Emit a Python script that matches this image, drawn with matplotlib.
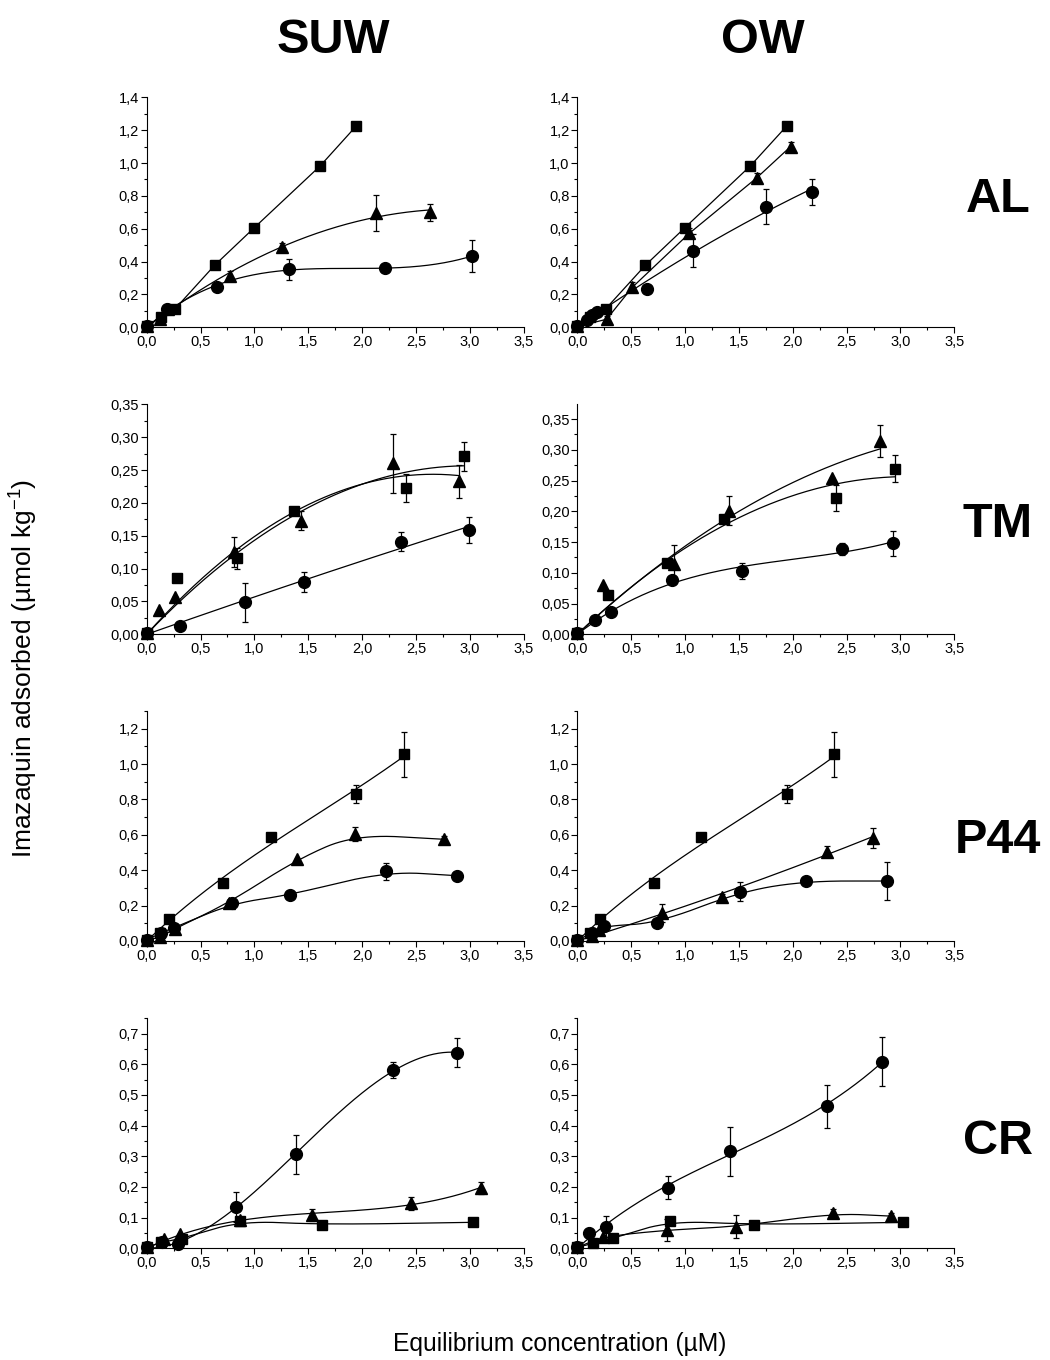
import numpy as np
import matplotlib.pyplot as plt
from matplotlib.ticker import AutoMinorLocator, FuncFormatter, MultipleLocator

plt.rcParams['font.family'] = ['Liberation Sans', 'DejaVu Sans']
plt.rcParams['mathtext.default'] = 'regular'

# ---- AL / SUW
al_suw_sq_x = [0.0, 0.13, 0.26, 0.63, 1.0, 1.61, 1.945]
al_suw_sq_y = [0.005, 0.065, 0.11, 0.377, 0.607, 0.982, 1.225]
al_suw_sq_e = [0, 0, 0, 0, 0, 0, 0]
al_suw_tr_x = [0.0, 0.12, 0.2, 0.774, 1.254, 2.128, 2.626]
al_suw_tr_y = [0.005, 0.05, 0.11, 0.312, 0.491, 0.694, 0.70]
al_suw_tr_e = [0, 0, 0.02, 0.03, 0.02, 0.11, 0.05]
al_suw_ci_x = [0.0, 0.186, 0.657, 1.325, 2.214, 3.02]
al_suw_ci_y = [0.005, 0.11, 0.248, 0.353, 0.359, 0.434]
al_suw_ci_e = [0, 0, 0, 0.065, 0, 0.097]

# ---- AL / OW
al_ow_sq_x = [0.0, 0.12, 0.263, 0.631, 1.0, 1.606, 1.944]
al_ow_sq_y = [0.005, 0.06, 0.112, 0.377, 0.607, 0.982, 1.225]
al_ow_sq_e = [0, 0, 0, 0, 0, 0, 0]
al_ow_tr_x = [0.0, 0.272, 0.51, 1.04, 1.668, 1.98]
al_ow_tr_y = [0.005, 0.049, 0.243, 0.572, 0.911, 1.10]
al_ow_tr_e = [0, 0.02, 0.03, 0.03, 0.03, 0.03]
al_ow_ci_x = [0.0, 0.087, 0.133, 0.18, 0.644, 1.071, 1.749, 2.179]
al_ow_ci_y = [0.005, 0.045, 0.073, 0.091, 0.235, 0.465, 0.734, 0.824]
al_ow_ci_e = [0, 0, 0, 0, 0, 0.1, 0.105, 0.08]

# ---- TM / SUW
tm_suw_sq_x = [0.0, 0.279, 0.836, 1.363, 2.403, 2.948]
tm_suw_sq_y = [0.002, 0.0864, 0.116, 0.187, 0.223, 0.271]
tm_suw_sq_e = [0, 0, 0.016, 0.005, 0.021, 0.022]
tm_suw_tr_x = [0.0, 0.118, 0.266, 0.814, 1.437, 2.286, 2.896]
tm_suw_tr_y = [0.002, 0.037, 0.057, 0.125, 0.173, 0.26, 0.233]
tm_suw_tr_e = [0, 0, 0, 0.023, 0.015, 0.045, 0.025]
tm_suw_ci_x = [0.0, 0.31, 0.91, 1.456, 2.363, 2.995]
tm_suw_ci_y = [0.002, 0.0132, 0.0488, 0.0798, 0.141, 0.159]
tm_suw_ci_e = [0, 0, 0.03, 0.015, 0.015, 0.02]

# ---- TM / OW
tm_ow_sq_x = [0.0, 0.282, 0.829, 1.365, 2.402, 2.946]
tm_ow_sq_y = [0.002, 0.0645, 0.1165, 0.187, 0.222, 0.269]
tm_ow_sq_e = [0, 0, 0, 0, 0.021, 0.022]
tm_ow_tr_x = [0.0, 0.235, 0.894, 1.405, 2.368, 2.813]
tm_ow_tr_y = [0.002, 0.080, 0.115, 0.201, 0.2536, 0.315]
tm_ow_tr_e = [0, 0, 0.03, 0.024, 0, 0.026]
tm_ow_ci_x = [0.0, 0.164, 0.316, 0.882, 1.532, 2.454, 2.928]
tm_ow_ci_y = [0.002, 0.0233, 0.0363, 0.0878, 0.103, 0.1387, 0.148]
tm_ow_ci_e = [0, 0, 0, 0, 0.013, 0.01, 0.02]

# ---- P44 / SUW
p44_suw_sq_x = [0.0, 0.124, 0.207, 0.706, 1.152, 1.945, 2.388]
p44_suw_sq_y = [0.005, 0.043, 0.122, 0.33, 0.59, 0.831, 1.055]
p44_suw_sq_e = [0, 0, 0, 0, 0, 0.05, 0.128]
p44_suw_tr_x = [0.0, 0.12, 0.263, 0.76, 1.397, 1.936, 2.756]
p44_suw_tr_y = [0.005, 0.02, 0.07, 0.215, 0.462, 0.603, 0.575]
p44_suw_tr_e = [0, 0, 0, 0, 0, 0.04, 0.02]
p44_suw_ci_x = [0.0, 0.133, 0.254, 0.793, 1.332, 2.22, 2.883]
p44_suw_ci_y = [0.005, 0.047, 0.075, 0.213, 0.26, 0.394, 0.369]
p44_suw_ci_e = [0, 0, 0, 0, 0, 0.048, 0]

# ---- P44 / OW
p44_ow_sq_x = [0.0, 0.118, 0.207, 0.709, 1.151, 1.947, 2.386]
p44_ow_sq_y = [0.005, 0.043, 0.122, 0.33, 0.59, 0.831, 1.055]
p44_ow_sq_e = [0, 0, 0, 0, 0, 0.05, 0.128]
p44_ow_tr_x = [0.0, 0.136, 0.2, 0.786, 1.34, 2.321, 2.748]
p44_ow_tr_y = [0.005, 0.028, 0.062, 0.16, 0.247, 0.505, 0.584]
p44_ow_tr_e = [0, 0.03, 0, 0.05, 0.02, 0.03, 0.057]
p44_ow_ci_x = [0.0, 0.133, 0.245, 0.743, 1.513, 2.123, 2.878]
p44_ow_ci_y = [0.005, 0.043, 0.085, 0.10, 0.279, 0.339, 0.339]
p44_ow_ci_e = [0, 0, 0, 0, 0.055, 0, 0.11]

# ---- CR / SUW
cr_suw_sq_x = [0.0, 0.133, 0.328, 0.867, 1.626, 3.026]
cr_suw_sq_y = [0.003, 0.0195, 0.0315, 0.09, 0.077, 0.0847]
cr_suw_sq_e = [0, 0, 0, 0, 0, 0]
cr_suw_tr_x = [0.0, 0.161, 0.313, 0.87, 1.53, 2.453, 3.106]
cr_suw_tr_y = [0.003, 0.0304, 0.0456, 0.092, 0.1085, 0.1465, 0.1975]
cr_suw_tr_e = [0, 0, 0, 0, 0.02, 0.02, 0.02]
cr_suw_ci_x = [0.0, 0.14, 0.291, 0.83, 1.387, 2.289, 2.883]
cr_suw_ci_y = [0.003, 0.02, 0.013, 0.1346, 0.307, 0.581, 0.638]
cr_suw_ci_e = [0, 0, 0, 0.05, 0.064, 0.025, 0.048]

# ---- CR / OW
cr_ow_sq_x = [0.0, 0.149, 0.334, 0.86, 1.637, 3.027]
cr_ow_sq_y = [0.003, 0.0163, 0.0326, 0.09, 0.077, 0.0847]
cr_ow_sq_e = [0, 0, 0, 0, 0, 0]
cr_ow_tr_x = [0.0, 0.241, 0.83, 1.473, 2.377, 2.909]
cr_ow_tr_y = [0.003, 0.038, 0.0597, 0.0705, 0.114, 0.105]
cr_ow_tr_e = [0, 0, 0.035, 0.037, 0.015, 0.01]
cr_ow_ci_x = [0.0, 0.111, 0.263, 0.842, 1.42, 2.315, 2.826]
cr_ow_ci_y = [0.003, 0.0488, 0.0705, 0.1975, 0.317, 0.463, 0.608]
cr_ow_ci_e = [0, 0, 0.035, 0.037, 0.08, 0.07, 0.08]

col_titles = ['SUW', 'OW']
row_titles = ['AL', 'TM', 'P44', 'CR']

# curve kind: None = straight segments, 'b' = B-spline smoothing,
# int = polynomial fit through the origin of that degree
panels = [
    (0, 0, [(al_suw_sq_x, al_suw_sq_y, al_suw_sq_e, 's', None),
            (al_suw_tr_x, al_suw_tr_y, al_suw_tr_e, '^', 2),
            (al_suw_ci_x, al_suw_ci_y, al_suw_ci_e, 'o', 3)], 1.4, 0.2, 1),
    (0, 1, [(al_ow_sq_x, al_ow_sq_y, al_ow_sq_e, 's', None),
            (al_ow_tr_x, al_ow_tr_y, al_ow_tr_e, '^', None),
            (al_ow_ci_x, al_ow_ci_y, al_ow_ci_e, 'o', 2)], 1.4, 0.2, 1),
    (1, 0, [(tm_suw_sq_x, tm_suw_sq_y, tm_suw_sq_e, 's', 2),
            (tm_suw_tr_x, tm_suw_tr_y, tm_suw_tr_e, '^', 2),
            (tm_suw_ci_x, tm_suw_ci_y, tm_suw_ci_e, 'o', 2)], 0.35, 0.05, 2),
    (1, 1, [(tm_ow_sq_x, tm_ow_sq_y, tm_ow_sq_e, 's', 2),
            (tm_ow_tr_x, tm_ow_tr_y, tm_ow_tr_e, '^', 2),
            (tm_ow_ci_x, tm_ow_ci_y, tm_ow_ci_e, 'o', 3)], 0.374, 0.05, 2),
    (2, 0, [(p44_suw_sq_x, p44_suw_sq_y, p44_suw_sq_e, 's', 3),
            (p44_suw_tr_x, p44_suw_tr_y, p44_suw_tr_e, '^', 'b'),
            (p44_suw_ci_x, p44_suw_ci_y, p44_suw_ci_e, 'o', 'b')], 1.3, 0.2, 1),
    (2, 1, [(p44_ow_sq_x, p44_ow_sq_y, p44_ow_sq_e, 's', 3),
            (p44_ow_tr_x, p44_ow_tr_y, p44_ow_tr_e, '^', 2),
            (p44_ow_ci_x, p44_ow_ci_y, p44_ow_ci_e, 'o', 'b')], 1.3, 0.2, 1),
    (3, 0, [(cr_suw_sq_x, cr_suw_sq_y, cr_suw_sq_e, 's', 'b'),
            (cr_suw_tr_x, cr_suw_tr_y, cr_suw_tr_e, '^', 3),
            (cr_suw_ci_x, cr_suw_ci_y, cr_suw_ci_e, 'o', 3)], 0.75, 0.1, 1),
    (3, 1, [(cr_ow_sq_x, cr_ow_sq_y, cr_ow_sq_e, 's', 'b'),
            (cr_ow_tr_x, cr_ow_tr_y, cr_ow_tr_e, '^', 'b'),
            (cr_ow_ci_x, cr_ow_ci_y, cr_ow_ci_e, 'o', 3)], 0.75, 0.1, 1),
]


def smooth(x, y, n=6):
    # Chaikin corner cutting -> quadratic B-spline with fixed end points
    p = np.column_stack([x, y])
    for _ in range(n):
        q = [p[0]]
        for a, b in zip(p[:-1], p[1:]):
            q.append(0.75 * a + 0.25 * b)
            q.append(0.25 * a + 0.75 * b)
        q.append(p[-1])
        p = np.array(q)
    return p[:, 0], p[:, 1]


def origin_fit(x, y, deg):
    A = np.column_stack([x ** k for k in range(1, deg + 1)])
    c = np.linalg.lstsq(A, y, rcond=None)[0]
    xf = np.linspace(0, x.max(), 200)
    yf = sum(c[k - 1] * xf ** k for k in range(1, deg + 1))
    return xf, yf


W, H = 1050, 1360
fig = plt.figure(figsize=(W / 100, H / 100), dpi=100)

col_left = [146.7, 577.3]
row_top = [97.3, 404.3, 711, 1018.3]
ax_w, ax_h = 377, 230

msize = {'s': 7.5, '^': 8.5, 'o': 8.5}

for row, col, series, ytop, ystep, nd in panels:
    ax = fig.add_axes([col_left[col] / W, 1 - (row_top[row] + ax_h) / H, ax_w / W, ax_h / H])
    for x, y, e, mk, kind in series:
        x = np.array(x)
        y = np.array(y)
        if kind is None:
            xf, yf = x, y
        elif kind == 'b':
            xf, yf = smooth(x, y)
        else:
            xf, yf = origin_fit(x, y, kind)
        ax.plot(xf, yf, color='black', lw=0.9)
        ax.errorbar(x, y, yerr=e, fmt=mk, color='black', ms=msize[mk], capsize=2.5,
                    elinewidth=0.9, capthick=0.9, clip_on=False, zorder=3)
    ax.set_xlim(0, 3.5)
    ax.set_ylim(0, ytop)
    ax.spines['top'].set_visible(False)
    ax.spines['right'].set_visible(False)
    ax.xaxis.set_major_locator(MultipleLocator(0.5))
    ax.yaxis.set_major_locator(MultipleLocator(ystep))
    ax.xaxis.set_minor_locator(AutoMinorLocator(2))
    ax.yaxis.set_minor_locator(AutoMinorLocator(2))
    ax.xaxis.set_major_formatter(FuncFormatter(lambda v, p: f'{v:.1f}'.replace('.', ',')))
    ax.yaxis.set_major_formatter(FuncFormatter(lambda v, p, nd=nd: f'{v:.{nd}f}'.replace('.', ',')))
    ax.tick_params(which='major', direction='out', length=4, width=0.8, labelsize=10.5, pad=1.5)
    ax.tick_params(which='minor', direction='out', length=2, width=0.8)

col_cx = [333, 763]
for cx, t in zip(col_cx, col_titles):
    fig.text(cx / W, 1 - 53 / H, t, fontsize=35, fontweight='bold', ha='center', va='baseline')

row_base = [212, 537, 853, 1154]
for by, t in zip(row_base, row_titles):
    fig.text(998 / W, 1 - by / H, t, fontsize=35, fontweight='bold', ha='center', va='baseline')

fig.text(33 / W, 1 - 668 / H, 'Imazaquin adsorbed (µmol kg$^{-1}$)', fontsize=19,
         rotation=90, rotation_mode='anchor', ha='center', va='baseline')
fig.text(560 / W, 1 - 1351 / H, 'Equilibrium concentration (µM)', fontsize=17.7,
         ha='center', va='baseline')

fig.savefig('out.png', dpi=100)
